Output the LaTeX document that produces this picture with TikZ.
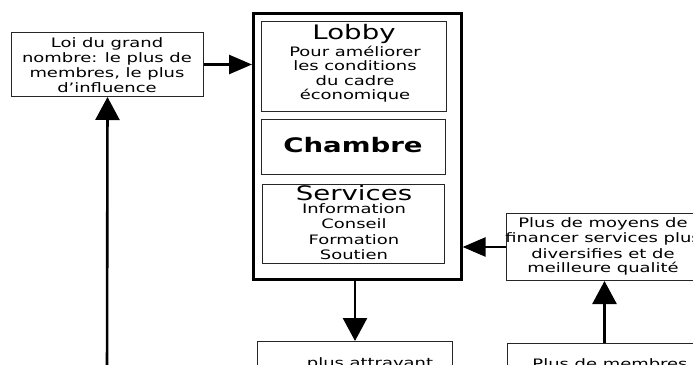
\documentclass[tikz,border=0pt]{standalone}
\usepackage{fontspec}
\setmainfont{DejaVu Sans}[FakeStretch=1.38]
\usetikzlibrary{arrows.meta}
\begin{document}
\begin{tikzpicture}[x=1pt,y=-1pt,
  boxline/.style={draw=black!85, line width=1pt, inner sep=0pt, anchor=north west},
  outerline/.style={draw=black, line width=2.6pt, inner sep=0pt, anchor=north west},
  conn/.style={line width=2.6pt, -{Triangle[length=23pt,width=24pt]}},
  connh/.style={line width=2.6pt, -{Triangle[length=23pt,width=19pt]}},
  sm/.style={font=\fontsize{13}{15}\selectfont, anchor=base, inner sep=0pt},
  bigt/.style={font=\fontsize{20}{24}\selectfont, anchor=base, inner sep=0pt},
  bigb/.style={font=\fontsize{20}{24}\selectfont\bfseries, anchor=base, inner sep=0pt}]
\useasboundingbox (0,0) rectangle (693,364);
\clip (0,0) rectangle (693,364);
\fill[white] (0,0) rectangle (693,364);

% boxes
\node[boxline, minimum width=192pt, minimum height=64pt] (loi) at (11,32) {};
\node[outerline, minimum width=208pt, minimum height=266pt] (outer) at (252,12) {};
\node[boxline, minimum width=185pt, minimum height=90pt] (lobby) at (261,21) {};
\node[boxline, minimum width=184pt, minimum height=55pt] (chambre) at (261,119) {};
\node[boxline, minimum width=182pt, minimum height=79pt] (services) at (262,184) {};
\node[boxline, minimum width=194pt, minimum height=67pt] (moyens) at (506,213) {};
\node[boxline, minimum width=195pt, minimum height=60pt] (attr) at (257,341) {};
\node[boxline, minimum width=194pt, minimum height=60pt] (membres) at (507,343) {};

% texts
\node[sm] (loi1) at (107,47) {Loi du grand};
\node[sm] (loi2) at (107,62) {nombre: le plus de};
\node[sm] (loi3) at (107,77) {membres, le plus};
\node[sm] (loi4) at (107,92) {d’influence};

\node[bigt] (lob0) at (354,39) {Lobby};
\node[sm] (lob1) at (355,56) {Pour améliorer};
\node[sm] (lob2) at (355,70.5) {les conditions};
\node[sm] (lob3) at (355,85) {du cadre};
\node[sm] (lob4) at (355,99) {économique};

\node[bigb] (cha0) at (353,152.7) {Chambre};

\node[bigt] (ser0) at (354,200.5) {Services};
\node[sm] (ser1) at (354,213.5) {Information};
\node[sm] (ser2) at (354,228.8) {Conseil};
\node[sm] (ser3) at (354,244.2) {Formation};
\node[sm] (ser4) at (354,259.5) {Soutien};

\node[sm] (moy1) at (603,227) {Plus de moyens de};
\node[sm] (moy2) at (603,242) {financer services plus};
\node[sm] (moy3) at (603,258) {diversifies et de};
\node[sm] (moy4) at (603,272.7) {meilleure qualité};

\node[sm] (att1) at (370,367) {plus attrayant};
\node[sm] (mem1) at (610,368) {Plus de membres};

% connectors
\coordinate (lb) at (107,380);
\draw[conn] (lb) -- (loi.south);
\draw[connh] (loi.east) -- (loi.east -| outer.west);
\draw[connh] (moyens.west) -- (moyens.west -| outer.east);
\draw[conn] (attr.north |- outer.south) -- (attr.north);
\draw[conn] (membres.north) -- (membres.north |- moyens.south);
\end{tikzpicture}
\end{document}
